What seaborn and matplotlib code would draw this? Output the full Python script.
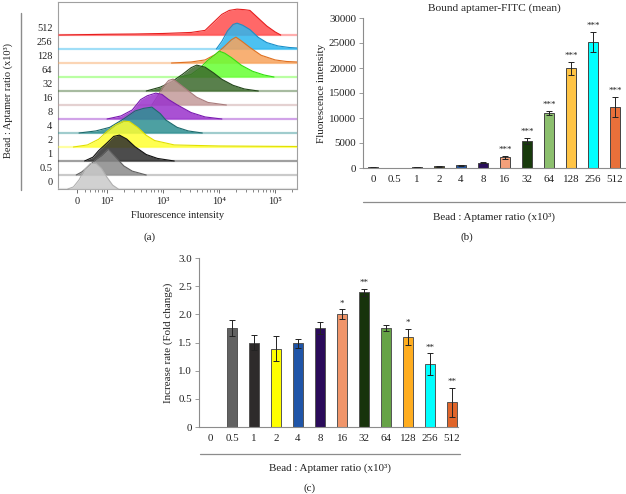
import numpy as np
import pandas as pd
import matplotlib.pyplot as plt
import seaborn as sns
from matplotlib.lines import Line2D

sns.set_theme(style="white")
plt.rcParams["font.family"] = ["Liberation Serif", "DejaVu Serif"]
plt.rcParams["text.color"] = "#222222"
plt.rcParams["axes.labelcolor"] = "#222222"
plt.rcParams["xtick.color"] = "#222222"
plt.rcParams["ytick.color"] = "#222222"

W, H = 626, 494

ratios = ["0", "0.5", "1", "2", "4", "8", "16", "32", "64", "128", "256", "512"]

# (a) flow histograms: log10 intensity vs relative count (0-100), one list per ratio
hist_logx = [
    [1.30, 1.40, 1.50, 1.60, 1.70, 1.80, 1.90, 2.00, 2.10, 2.20],
    [1.45, 1.55, 1.70, 1.80, 1.90, 2.02, 2.15, 2.30, 2.45, 2.70],
    [1.60, 1.75, 1.85, 2.00, 2.12, 2.22, 2.35, 2.50, 2.70, 2.90, 3.20],
    [1.40, 1.65, 1.85, 2.00, 2.15, 2.30, 2.40, 2.55, 2.70, 2.85, 3.20, 4.00, 5.39],
    [1.50, 1.80, 2.05, 2.30, 2.50, 2.65, 2.80, 2.95, 3.05, 3.25, 3.45, 3.70],
    [2.00, 2.25, 2.45, 2.60, 2.72, 2.87, 2.98, 3.10, 3.25, 3.50, 3.75, 4.05],
    [2.80, 2.92, 3.00, 3.10, 3.18, 3.30, 3.45, 3.60, 3.80, 4.13],
    [2.70, 2.95, 3.15, 3.35, 3.50, 3.60, 3.75, 3.90, 4.05, 4.25, 4.45, 4.70],
    [3.30, 3.50, 3.66, 3.80, 3.92, 4.00, 4.10, 4.22, 4.40, 4.60, 4.80, 4.98],
    [3.15, 3.50, 3.75, 3.95, 4.10, 4.22, 4.30, 4.40, 4.55, 4.75, 5.00, 5.20, 5.39],
    [3.95, 4.05, 4.15, 4.25, 4.32, 4.42, 4.55, 4.70, 4.85, 5.05, 5.25, 5.39],
    [1.15, 2.00, 2.50, 3.00, 3.50, 3.75, 3.88, 4.05, 4.18, 4.32, 4.45, 4.55, 4.70, 4.85, 5.00, 5.10],
]
hist_count = [
    [0, 8, 35, 75, 98, 100, 80, 45, 15, 0],
    [0, 12, 40, 60, 75, 100, 70, 35, 15, 0],
    [0, 15, 40, 70, 95, 100, 85, 55, 25, 10, 0],
    [0, 8, 30, 60, 85, 100, 98, 75, 45, 25, 8, 4, 2],
    [0, 8, 22, 55, 85, 95, 100, 75, 50, 22, 8, 0],
    [0, 12, 35, 75, 90, 100, 95, 75, 55, 25, 8, 0],
    [0, 40, 70, 95, 100, 80, 55, 30, 10, 0],
    [0, 15, 35, 65, 90, 100, 92, 70, 45, 22, 8, 0],
    [0, 10, 35, 65, 85, 100, 92, 75, 45, 22, 8, 0],
    [0, 4, 12, 35, 65, 90, 100, 85, 60, 30, 12, 6, 4],
    [0, 30, 70, 95, 100, 92, 75, 45, 25, 12, 6, 4],
    [0, 3, 4, 6, 10, 18, 45, 80, 95, 100, 98, 95, 65, 35, 12, 0],
]
a_fill = ["#c9c9c9", "#8a8a8a", "#2c2c2c", "#ffff33", "#2e8f92", "#9a33cc",
          "#c49a9a", "#3c6a2c", "#66ff33", "#f7a35c", "#2cb7ef", "#ff4d4d"]
a_edge = ["#b0b0b0", "#606060", "#111111", "#e0e000", "#1d6a6c", "#7a1ab0",
          "#a87c7c", "#23471a", "#33dd11", "#e07020", "#1a8fc8", "#e61e1e"]

# (b) bound aptamer-FITC mean fluorescence
b_mean = [100, 60, 150, 350, 550, 1000, 2140, 5430, 10950, 19960, 25180, 12190]
b_err = [30, 20, 40, 60, 80, 100, 330, 650, 430, 1300, 2050, 2000]
b_star = ["", "", "", "", "", "", "***", "***", "***", "***", "***", "***"]
b_colors = ["#8a8a8a", "#5e5e5e", "#3a3a3a", "#4d4a22", "#2457a3", "#2a0f5a",
            "#f4a07a", "#183a0c", "#8cbf6e", "#ffc445", "#00ffff", "#e8703a"]

# (c) increase rate (fold change)
c_mean = [0, 1.76, 1.50, 1.39, 1.49, 1.76, 2.00, 2.39, 1.76, 1.60, 1.12, 0.44]
c_err = [0, 0.14, 0.13, 0.22, 0.08, 0.11, 0.09, 0.06, 0.05, 0.14, 0.19, 0.26]
c_star = ["", "", "", "", "", "", "*", "**", "", "*", "**", "**"]
c_colors = ["#ffffff", "#626262", "#2e2b2b", "#ffff00", "#1f55a8", "#2a0b5a",
            "#f0956a", "#17330c", "#66a347", "#ffad1f", "#00ffff", "#e0652a"]

FS = 7.9
FS_A = 7.5
GRAY = "#8c8c8c"


def fx(x):
    return x / W


def fy(y):
    return 1 - y / H


def box(x0, y0, x1, y1):
    return [fx(x0), fy(y1), fx(x1) - fx(x0), fy(y0) - fy(y1)]


fig = plt.figure(figsize=(6.26, 4.94), dpi=100)

# ---------------- (a) ridgeline histograms
ax = fig.add_axes(box(58, 2, 297, 189))
peak_h = 1.85
for i in range(len(ratios)):
    xs = np.array(hist_logx[i])
    ys = i + np.array(hist_count[i]) / 100 * peak_h
    z = 30 - i * 2
    ax.axhline(i, color=a_fill[i], alpha=0.45, lw=1.6, zorder=z - 1)
    ax.fill_between(xs, i, ys, color=a_fill[i], alpha=0.85, lw=0, zorder=z)
    ax.plot(xs, ys, color=a_edge[i], lw=0.8, zorder=z + 1)
ax.set_xlim(1.125, 5.39)
ax.set_ylim(0, 13.36)
ax.set_yticks([i + 0.55 for i in range(len(ratios))])
ax.set_yticklabels(ratios, fontsize=FS_A)
ax.set_xticks([1.46, 2, 3, 4, 5])
ax.set_xticklabels(["0", "10²", "10³", "10⁴", "10⁵"], fontsize=FS_A)
minor = [np.log10(k * 10 ** n) for n in (1, 2, 3, 4, 5) for k in range(2, 10)]
minor = [m for m in minor if 1.5 < m < 5.39]
ax.set_xticks(minor, minor=True)
ax.tick_params(axis="y", length=0, pad=4)
ax.tick_params(axis="x", which="major", length=3, width=0.6, color="#555555", direction="out", pad=3, bottom=True)
ax.tick_params(axis="x", which="minor", length=2, width=0.5, color="#555555", direction="out", bottom=True)
ax.set_xlabel("Fluorescence intensity", fontsize=FS_A, labelpad=3)
for s in ax.spines.values():
    s.set_color("#a0a0a0")
    s.set_linewidth(0.8)
fig.add_artist(Line2D([fx(21), fx(21)], [fy(13), fy(190)], color=GRAY, lw=1.0))
fig.text(fx(8), fy(101), "Bead : Aptamer ratio (x10³)", rotation=90, ha="center", va="center", fontsize=FS_A)

# ---------------- (b) bar chart of mean fluorescence
df_b = pd.DataFrame({"ratio": ratios, "mean": b_mean})
axb = fig.add_axes(box(363, 18, 625, 168))
sns.barplot(data=df_b, x="ratio", y="mean", hue="ratio", order=ratios, hue_order=ratios,
            palette=b_colors, saturation=1, width=0.45, edgecolor="#444444", linewidth=0.7,
            legend=False, ax=axb)
axb.errorbar(range(len(ratios)), b_mean, yerr=b_err, fmt="none", ecolor="#222222",
             elinewidth=0.7, capsize=2, capthick=0.7)
for i, s in enumerate(b_star):
    if s:
        axb.text(i, b_mean[i] + b_err[i] + 350, s, ha="center", va="bottom", fontsize=6.5)
axb.set_xlim(-0.45, 11.45)
axb.set_ylim(0, 30000)
axb.set_yticks(range(0, 30001, 5000))
axb.tick_params(axis="both", labelsize=FS)
axb.tick_params(axis="y", length=3, width=0.6, color=GRAY, direction="out", left=True, pad=2)
axb.tick_params(axis="x", length=0, pad=5)
axb.set_xlabel("")
axb.set_ylabel("Fluorescence intensity", fontsize=FS, labelpad=2)
axb.set_title("Bound aptamer-FITC (mean)", fontsize=FS + 0.3, pad=5)
sns.despine(ax=axb)
for s in ("left", "bottom"):
    axb.spines[s].set_color(GRAY)
    axb.spines[s].set_linewidth(0.8)
fig.add_artist(Line2D([fx(363), fx(625)], [fy(202), fy(202)], color=GRAY, lw=0.9))
fig.text(fx(494), fy(217), "Bead : Aptamer ratio (x10³)", ha="center", va="center", fontsize=FS)

# ---------------- (c) bar chart of fold change
df_c = pd.DataFrame({"ratio": ratios, "mean": c_mean})
axc = fig.add_axes(box(199, 258, 458, 427))
sns.barplot(data=df_c, x="ratio", y="mean", hue="ratio", order=ratios, hue_order=ratios,
            palette=c_colors, saturation=1, width=0.45, edgecolor="#555555", linewidth=0.7,
            legend=False, ax=axc)
axc.errorbar(range(1, len(ratios)), c_mean[1:], yerr=c_err[1:], fmt="none", ecolor="#222222",
             elinewidth=0.7, capsize=2, capthick=0.7)
for i, s in enumerate(c_star):
    if s:
        axc.text(i, c_mean[i] + c_err[i] + 0.03, s, ha="center", va="bottom", fontsize=6.5)
axc.set_xlim(-0.5, 11.27)
axc.set_ylim(0, 3.0)
axc.set_yticks([0, 0.5, 1.0, 1.5, 2.0, 2.5, 3.0])
axc.set_yticklabels(["0", "0.5", "1.0", "1.5", "2.0", "2.5", "3.0"])
axc.tick_params(axis="both", labelsize=FS)
axc.tick_params(axis="y", length=3, width=0.6, color=GRAY, direction="out", left=True, pad=2)
axc.tick_params(axis="x", length=0, pad=5)
axc.set_xlabel("")
axc.set_ylabel("Increase rate (Fold change)", fontsize=FS, labelpad=4)
sns.despine(ax=axc)
for s in ("left", "bottom"):
    axc.spines[s].set_color(GRAY)
    axc.spines[s].set_linewidth(0.8)
fig.add_artist(Line2D([fx(200), fx(460)], [fy(454), fy(454)], color=GRAY, lw=0.9))
fig.text(fx(330), fy(468), "Bead : Aptamer ratio (x10³)", ha="center", va="center", fontsize=FS)

# panel letters
fig.text(fx(150), fy(237), "(a)", ha="center", va="center", fontsize=FS)
fig.text(fx(467), fy(237), "(b)", ha="center", va="center", fontsize=FS)
fig.text(fx(310), fy(488), "(c)", ha="center", va="center", fontsize=FS)

fig.savefig("out.png", dpi=100)
